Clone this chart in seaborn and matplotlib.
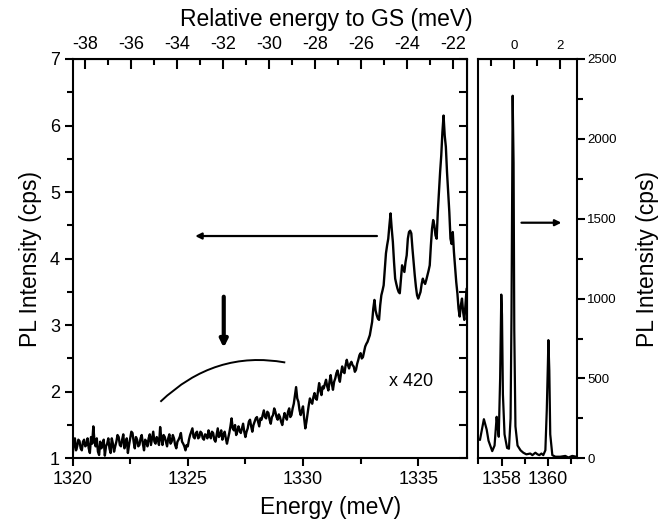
import numpy as np
import matplotlib.pyplot as plt
import matplotlib.ticker as mticker
from matplotlib.path import Path
from matplotlib.patches import PathPatch
import seaborn as sns

sns.set_style('ticks')
plt.rcParams['font.family'] = ['Liberation Sans', 'DejaVu Sans']
plt.rcParams['axes.unicode_minus'] = False
for key in ('text.color', 'axes.labelcolor', 'xtick.color', 'ytick.color', 'axes.edgecolor'):
    plt.rcParams[key] = 'black'

# ground state energy (meV)
gs_energy = 1358.53

# low energy part, magnified x420, one value every 0.05 meV from 1320.00 to 1337.10
wide_energy = np.linspace(1320.0, 1337.1, 343)
wide_pl = [
    1.05, 1.22, 1.30, 1.12, 1.18, 1.28, 1.26, 1.15, 1.12, 1.25, 1.28, 1.18, 1.20, 1.30, 1.15, 1.08, 1.32, 1.22, 1.48, 1.25,
    1.18, 1.30, 1.10, 1.05, 1.25, 1.15, 1.20, 1.28, 1.04, 1.18, 1.22, 1.30, 1.15, 1.08, 1.30, 1.22, 1.10, 1.18, 1.25, 1.35,
    1.32, 1.20, 1.18, 1.28, 1.36, 1.15, 1.22, 1.30, 1.08, 1.20, 1.30, 1.40, 1.38, 1.25, 1.15, 1.32, 1.28, 1.18, 1.20, 1.30,
    1.35, 1.22, 1.12, 1.28, 1.25, 1.18, 1.30, 1.36, 1.20, 1.30, 1.40, 1.25, 1.22, 1.32, 1.28, 1.20, 1.47, 1.30, 1.20, 1.35,
    1.32, 1.25, 1.18, 1.30, 1.36, 1.22, 1.25, 1.35, 1.30, 1.20, 1.15, 1.25, 1.28, 1.32, 1.38, 1.25, 1.22, 1.18, 1.12, 1.20,
    1.18, 1.28, 1.35, 1.40, 1.45, 1.32, 1.30, 1.38, 1.40, 1.30, 1.32, 1.40, 1.38, 1.30, 1.28, 1.36, 1.35, 1.30, 1.42, 1.35,
    1.30, 1.40, 1.38, 1.28, 1.25, 1.35, 1.45, 1.32, 1.35, 1.42, 1.28, 1.35, 1.40, 1.30, 1.22, 1.30, 1.38, 1.48, 1.60, 1.45,
    1.42, 1.50, 1.35, 1.40, 1.48, 1.42, 1.38, 1.45, 1.52, 1.40, 1.32, 1.40, 1.45, 1.55, 1.58, 1.48, 1.40, 1.50, 1.55, 1.60,
    1.62, 1.55, 1.48, 1.60, 1.58, 1.65, 1.72, 1.62, 1.60, 1.70, 1.68, 1.58, 1.52, 1.62, 1.65, 1.75, 1.70, 1.62, 1.58, 1.66,
    1.62, 1.55, 1.50, 1.60, 1.68, 1.62, 1.58, 1.70, 1.75, 1.62, 1.65, 1.75, 1.82, 1.95, 2.07, 1.90, 1.85, 1.72, 1.65, 1.72,
    1.78, 1.60, 1.45, 1.55, 1.68, 1.80, 1.90, 1.85, 1.82, 1.92, 1.98, 1.90, 1.88, 2.00, 2.13, 2.02, 1.95, 2.08, 2.05, 2.12,
    2.18, 2.08, 2.02, 2.15, 2.25, 2.12, 2.03, 2.15, 2.20, 2.28, 2.32, 2.22, 2.15, 2.28, 2.38, 2.30, 2.28, 2.40, 2.48, 2.40,
    2.35, 2.42, 2.45, 2.40, 2.38, 2.30, 2.33, 2.42, 2.48, 2.55, 2.58, 2.50, 2.52, 2.60, 2.68, 2.72, 2.75, 2.80, 2.85, 2.95,
    3.05, 3.25, 3.38, 3.22, 3.15, 3.10, 3.08, 3.30, 3.45, 3.52, 3.60, 3.85, 4.08, 4.20, 4.30, 4.50, 4.68, 4.45, 4.25, 3.95,
    3.70, 3.62, 3.55, 3.50, 3.48, 3.70, 3.90, 3.85, 3.80, 3.95, 4.05, 4.30, 4.40, 4.42, 4.38, 4.15, 3.95, 3.75, 3.58, 3.45,
    3.40, 3.45, 3.50, 3.62, 3.70, 3.65, 3.62, 3.68, 3.75, 3.82, 3.90, 4.20, 4.45, 4.58, 4.50, 4.35, 4.30, 4.70, 5.00, 5.30,
    5.55, 5.90, 6.15, 5.85, 5.68, 5.30, 5.00, 4.70, 4.30, 4.22, 4.40, 4.10, 3.88, 3.65, 3.48, 3.25, 3.13, 3.30, 3.40, 3.20,
    3.08, 3.30, 3.55,
]

# GS region
gs_energy_pts = [
    1357.07, 1357.24, 1357.36, 1357.44, 1357.60, 1357.70, 1357.79, 1357.83,
    1357.88, 1357.94, 1357.99, 1358.02, 1358.06, 1358.13, 1358.24, 1358.32,
    1358.39, 1358.43, 1358.46, 1358.48, 1358.52, 1358.55, 1358.60, 1358.69,
    1358.82, 1358.94, 1359.07, 1359.24, 1359.33, 1359.46, 1359.55, 1359.63,
    1359.72, 1359.80, 1359.89, 1359.95, 1360.00, 1360.02, 1360.06, 1360.10,
    1360.19, 1360.32, 1360.53, 1360.75, 1360.88, 1361.05, 1361.22,
]
gs_pl = [
    115, 245, 180, 110, 45, 80, 260, 200,
    135, 500, 1025, 900, 400, 150, 65, 60,
    250, 900, 1700, 2270, 1850, 800, 200, 80,
    50, 35, 25, 30, 20, 35, 25, 20,
    30, 20, 50, 300, 600, 740, 550, 150,
    20, 10, 10, 15, 5, 15, 10,
]

# relative energy ticks on top
rel_major_left = [-38, -36, -34, -32, -30, -28, -26, -24, -22]
rel_minor_left = [-37, -35, -33, -31, -29, -27, -25, -23]
rel_major_right = [0, 2]
rel_minor_right = [-1, 1]

fig = plt.figure(figsize=(6.66, 5.22), dpi=100)
ax1 = fig.add_axes([0.109, 0.122, 0.5916, 0.765])
ax2 = fig.add_axes([0.7182, 0.122, 0.1477, 0.765])

sns.lineplot(x=wide_energy, y=wide_pl, ax=ax1, color='black', linewidth=1.7, estimator=None)
sns.lineplot(x=gs_energy_pts, y=gs_pl, ax=ax2, color='black', linewidth=1.6, estimator=None)

for ax in (ax1, ax2):
    for s in ax.spines.values():
        s.set_linewidth(1.5)
        s.set_visible(True)

# left panel
ax1.set_xlim(1320, 1337.1)
ax1.set_ylim(1, 7)
ax1.xaxis.set_major_locator(mticker.MultipleLocator(5))
ax1.xaxis.set_minor_locator(mticker.MultipleLocator(2.5))
ax1.yaxis.set_major_locator(mticker.MultipleLocator(1))
ax1.yaxis.set_minor_locator(mticker.MultipleLocator(0.5))
ax1.tick_params(which='both', direction='out', width=1.5, labelsize=13, pad=3)
ax1.tick_params(which='major', length=6)
ax1.tick_params(which='minor', length=4)

right1 = ax1.secondary_yaxis('right')
right1.yaxis.set_major_locator(mticker.MultipleLocator(0.5))
right1.tick_params(direction='in', length=6, width=1.5, labelright=False)

top1 = ax1.secondary_xaxis('top', functions=(lambda e: e - gs_energy, lambda r: r + gs_energy))
top1.set_xticks(rel_major_left)
top1.set_xticks(rel_minor_left, minor=True)
top1.tick_params(which='both', direction='in', width=1.5, labelsize=13, pad=4)
top1.tick_params(which='major', length=7)
top1.tick_params(which='minor', length=4)

# right panel
ax2.set_xlim(1357.03, 1361.24)
ax2.set_ylim(0, 2500)
ax2.set_xticks([1358, 1360])
ax2.set_xticks([1357, 1359, 1361], minor=True)
ax2.yaxis.set_major_locator(mticker.MultipleLocator(500))
ax2.yaxis.set_minor_locator(mticker.MultipleLocator(250))
ax2.yaxis.tick_right()
ax2.yaxis.set_label_position('right')
ax2.tick_params(which='both', direction='out', width=1.5, pad=3)
ax2.tick_params(axis='x', labelsize=13)
ax2.tick_params(axis='y', labelsize=9.5, pad=1.5)
ax2.tick_params(which='major', length=6)
ax2.tick_params(which='minor', length=4)

top2 = ax2.secondary_xaxis('top', functions=(lambda e: e - gs_energy, lambda r: r + gs_energy))
top2.set_xticks(rel_major_right)
top2.set_xticks(rel_minor_right, minor=True)
top2.tick_params(which='both', direction='in', width=1.5, labelsize=9.5, pad=5)
top2.tick_params(which='major', length=7)
top2.tick_params(which='minor', length=5)

ax1.set_ylabel('PL Intensity (cps)', fontsize=16.5, labelpad=6)
ax2.set_ylabel('PL Intensity (cps)', fontsize=16.5, labelpad=14)
ax1.set_xlabel('')
fig.text(0.497, 0.028, 'Energy (meV)', ha='center', va='center', fontsize=16.5)
fig.text(0.49, 0.963, 'Relative energy to GS (meV)', ha='center', va='center', fontsize=16.5)

# annotations
ax1.annotate('', xy=(1325.2, 4.34), xytext=(1333.33, 4.34),
             arrowprops=dict(arrowstyle='-|>', lw=1.6, color='black', mutation_scale=9))
ax1.annotate('', xy=(1326.56, 2.62), xytext=(1326.56, 3.47),
             arrowprops=dict(arrowstyle='-|>', lw=3, color='black', mutation_scale=11))
arc = Path([(1323.81, 1.85), (1326.17, 2.63), (1329.23, 2.44)],
           [Path.MOVETO, Path.CURVE3, Path.CURVE3])
ax1.add_patch(PathPatch(arc, facecolor='none', edgecolor='black', lw=1.4))
ax1.text(1334.7, 2.16, 'x 420', ha='center', va='center', fontsize=13)

ax2.annotate('', xy=(1360.7, 1475), xytext=(1358.74, 1475),
             arrowprops=dict(arrowstyle='-|>', lw=1.6, color='black', mutation_scale=9))

fig.savefig('out.png', dpi=100)
